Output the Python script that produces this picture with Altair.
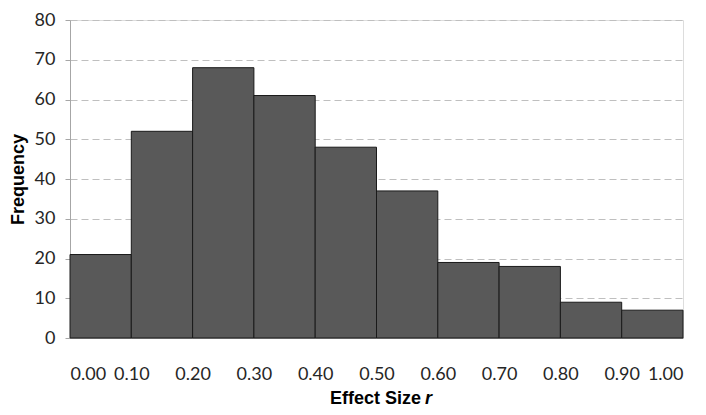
import altair as alt
import pandas as pd

bin_start = [0.0, 0.1, 0.2, 0.3, 0.4, 0.5, 0.6, 0.7, 0.8, 0.9]
bin_end = [0.1, 0.2, 0.3, 0.4, 0.5, 0.6, 0.7, 0.8, 0.9, 1.0]
frequency = [21, 52, 68, 61, 48, 37, 19, 18, 9, 7]
x_ticks = [0.0, 0.1, 0.2, 0.3, 0.4, 0.5, 0.6, 0.7, 0.8, 0.9, 1.0]
y_ticks = [0, 10, 20, 30, 40, 50, 60, 70, 80]

df = pd.DataFrame({"start": bin_start, "end": bin_end, "freq": frequency})

bars = alt.Chart(df).mark_rect(fill="#595959", stroke="#1a1a1a", strokeWidth=1).encode(
    x=alt.X("start:Q", scale=alt.Scale(domain=[0, 1], nice=False),
            axis=alt.Axis(values=x_ticks, format=".2f", title=None, grid=False,
                          ticks=False, domainColor="#a6a6a6", labelFont="Lato",
                          labelFontSize=18, labelColor="#262626", labelPadding=27)),
    x2="end:Q",
    y=alt.Y("freq:Q", scale=alt.Scale(domain=[0, 80], nice=False),
            axis=alt.Axis(values=y_ticks, title="Frequency", grid=True,
                          gridColor="#bfbfbf", gridDash=[7, 4], gridWidth=1,
                          domainColor="#a6a6a6", tickColor="#a6a6a6", tickSize=5,
                          labelFont="Lato", labelFontSize=18, labelColor="#262626",
                          labelPadding=10, titleFont="Liberation Sans",
                          titleFontSize=18, titleFontWeight="bold",
                          titleColor="#000000", titlePadding=7)),
    y2=alt.datum(0),
)

title_a = alt.Chart(pd.DataFrame({"t": ["Effect Size"]})).mark_text(
    font="Liberation Sans", fontSize=18, fontWeight="bold", align="right",
    baseline="middle", color="#000000").encode(
    text="t:N", x=alt.value(351), y=alt.value(379))
title_b = alt.Chart(pd.DataFrame({"t": ["r"]})).mark_text(
    font="Liberation Sans", fontSize=18, fontWeight="bold", fontStyle="italic",
    align="left", baseline="middle", color="#000000").encode(
    text="t:N", x=alt.value(355), y=alt.value(379))

chart = alt.layer(bars, title_a, title_b).properties(
    width=613, height=318,
    autosize=alt.AutoSizeParams(type="none"),
    padding={"left": 62, "top": 12, "right": 15, "bottom": 76},
).configure_view(stroke=None).configure(background="white")

chart.save("out.html", embed_options={"renderer": "svg", "actions": False})
